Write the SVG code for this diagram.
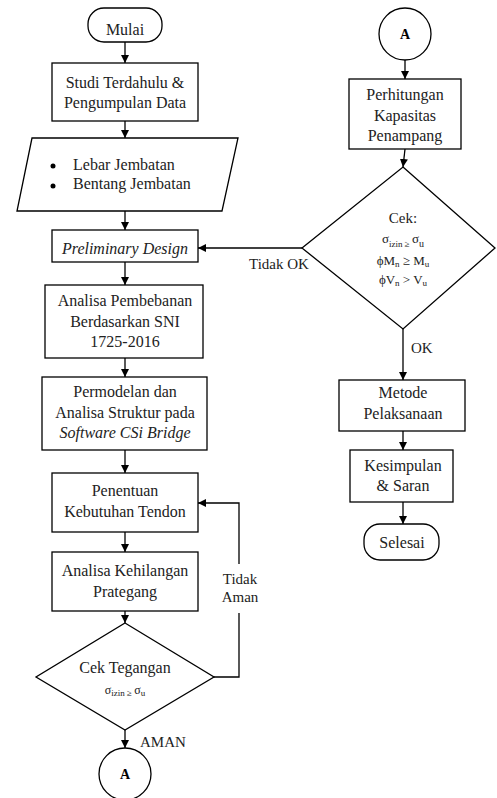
<svg xmlns="http://www.w3.org/2000/svg" width="497" height="798" viewBox="0 0 497 798">
<style>
.fcbox{fill:#fff;stroke:#000;stroke-width:1.3}
.fcln{fill:none;stroke:#000;stroke-width:1.3}
.fctx{font-family:"Liberation Serif","Times New Roman",serif !important;fill:#222;font-size:16px;text-anchor:middle}
.fcst{text-anchor:start}
.fclab{font-size:15px}
.fcit{font-style:italic}
.fcbd{font-weight:bold;font-size:14px;fill:#000}
.fcsm{font-size:13px}
</style>
<defs>
<marker id="ah" markerUnits="userSpaceOnUse" markerWidth="9" markerHeight="9" refX="8" refY="4" orient="auto">
<path d="M0,0 L8,4 L0,8 z" fill="#000"/>
</marker>
</defs>
<rect width="497" height="798" fill="#fff"/>
<g id="connectors">
<line class="fcln" x1="125" y1="42" x2="125" y2="63" marker-end="url(#ah)"/>
<line class="fcln" x1="125" y1="121" x2="125" y2="138" marker-end="url(#ah)"/>
<line class="fcln" x1="125" y1="211" x2="125" y2="230" marker-end="url(#ah)"/>
<line class="fcln" x1="125" y1="262" x2="125" y2="285" marker-end="url(#ah)"/>
<line class="fcln" x1="125" y1="358" x2="125" y2="377" marker-end="url(#ah)"/>
<line class="fcln" x1="125" y1="450" x2="125" y2="473" marker-end="url(#ah)"/>
<line class="fcln" x1="125" y1="532" x2="125" y2="552" marker-end="url(#ah)"/>
<line class="fcln" x1="125" y1="611" x2="125" y2="623" marker-end="url(#ah)"/>
<line class="fcln" x1="125" y1="730" x2="125" y2="748" marker-end="url(#ah)"/>
<polyline class="fcln" points="214,677 239,677 239,613"/>
<polyline class="fcln" points="239,564 239,503 198,503" marker-end="url(#ah)"/>
<line class="fcln" x1="405" y1="60" x2="405" y2="79" marker-end="url(#ah)"/>
<line class="fcln" x1="405" y1="149" x2="403" y2="167" marker-end="url(#ah)"/>
<line class="fcln" x1="302" y1="248" x2="198" y2="248" marker-end="url(#ah)"/>
<line class="fcln" x1="403" y1="329" x2="403" y2="380" marker-end="url(#ah)"/>
<line class="fcln" x1="403" y1="431" x2="403" y2="450" marker-end="url(#ah)"/>
<line class="fcln" x1="403" y1="502" x2="403" y2="524" marker-end="url(#ah)"/>
<text class="fctx fclab fcst" x="249" y="269">Tidak OK</text>
<text class="fctx fclab" x="240" y="584">Tidak</text>
<text class="fctx fclab" x="240" y="602">Aman</text>
<text class="fctx fclab fcst" x="140" y="747">AMAN</text>
<text class="fctx fclab fcst" x="411" y="353">OK</text>
</g>
<g id="mulai">
<rect class="fcbox" x="88" y="8" width="74" height="34" rx="16"/>
<text class="fctx" x="125" y="35">Mulai</text>
</g>
<g id="studi">
<rect class="fcbox" x="52" y="63" width="146" height="58"/>
<text class="fctx" x="125" y="88">Studi Terdahulu &amp;</text>
<text class="fctx" x="125" y="108">Pengumpulan Data</text>
</g>
<g id="input">
<polygon class="fcbox" points="32,138 238,138 222,211 17,211"/>
<circle cx="53" cy="166" r="2.5" fill="#000"/>
<circle cx="53" cy="186" r="2.5" fill="#000"/>
<text class="fctx fcst" x="73" y="170">Lebar Jembatan</text>
<text class="fctx fcst" x="73" y="189">Bentang Jembatan</text>
</g>
<g id="preliminary">
<rect class="fcbox" x="52" y="230" width="146" height="32"/>
<text class="fctx fcit" x="125" y="254">Preliminary Design</text>
</g>
<g id="pembebanan">
<rect class="fcbox" x="45" y="285" width="158" height="73"/>
<text class="fctx" x="125" y="306">Analisa Pembebanan</text>
<text class="fctx" x="125" y="327">Berdasarkan SNI</text>
<text class="fctx" x="125" y="347">1725-2016</text>
</g>
<g id="permodelan">
<rect class="fcbox" x="42" y="377" width="165" height="73"/>
<text class="fctx" x="125" y="397">Permodelan dan</text>
<text class="fctx" x="125" y="418">Analisa Struktur pada</text>
<text class="fctx fcit" x="125" y="438">Software CSi Bridge</text>
</g>
<g id="penentuan">
<rect class="fcbox" x="52" y="473" width="146" height="59"/>
<text class="fctx" x="125" y="496">Penentuan</text>
<text class="fctx" x="125" y="517">Kebutuhan Tendon</text>
</g>
<g id="kehilangan">
<rect class="fcbox" x="52" y="552" width="146" height="59"/>
<text class="fctx" x="125" y="576">Analisa Kehilangan</text>
<text class="fctx" x="125" y="597">Prategang</text>
</g>
<g id="cek-tegangan">
<polygon class="fcbox" points="125,623 214,677 125,730 36,677"/>
<text class="fctx" x="125" y="673">Cek Tegangan</text>
<text class="fctx" x="125" y="694" style="font-size:12px">σ<tspan style="font-size:9px" dy="2">izin ≥ </tspan><tspan dy="-2">σ</tspan><tspan style="font-size:9px" dy="2">u</tspan></text>
</g>
<g id="a-left">
<circle class="fcbox" cx="125" cy="774" r="26"/>
<text class="fctx fcbd" x="125" y="779">A</text>
</g>
<g id="a-right">
<circle class="fcbox" cx="405" cy="34" r="26"/>
<text class="fctx fcbd" x="405" y="39">A</text>
</g>
<g id="perhitungan">
<rect class="fcbox" x="349" y="79" width="112" height="70"/>
<text class="fctx" x="405" y="100">Perhitungan</text>
<text class="fctx" x="405" y="121">Kapasitas</text>
<text class="fctx" x="405" y="141">Penampang</text>
</g>
<g id="cek-kapasitas">
<polygon class="fcbox" points="403,167 495,248 403,329 302,248"/>
<text class="fctx" x="403" y="223" style="font-size:15px">Cek:</text>
<text class="fctx fcsm" x="403" y="243">σ<tspan style="font-size:9px" dy="4">izin ≥ </tspan><tspan dy="-4">σ</tspan><tspan style="font-size:10px" dy="4">u</tspan></text>
<text class="fctx fcsm" x="403" y="265">ϕM<tspan style="font-size:9px" dy="2">n</tspan><tspan dy="-2"> ≥ M</tspan><tspan style="font-size:9px" dy="2">u</tspan></text>
<text class="fctx fcsm" x="403" y="284">ϕV<tspan style="font-size:9px" dy="2">n</tspan><tspan dy="-2"> &gt; V</tspan><tspan style="font-size:9px" dy="2">u</tspan></text>
</g>
<g id="metode">
<rect class="fcbox" x="339" y="380" width="126" height="51"/>
<text class="fctx" x="403" y="398">Metode</text>
<text class="fctx" x="403" y="419">Pelaksanaan</text>
</g>
<g id="kesimpulan">
<rect class="fcbox" x="350" y="450" width="103" height="52"/>
<text class="fctx" x="403" y="471">Kesimpulan</text>
<text class="fctx" x="403" y="491">&amp; Saran</text>
</g>
<g id="selesai">
<rect class="fcbox" x="364" y="524" width="75" height="36" rx="16"/>
<text class="fctx" x="402" y="548">Selesai</text>
</g>
</svg>
